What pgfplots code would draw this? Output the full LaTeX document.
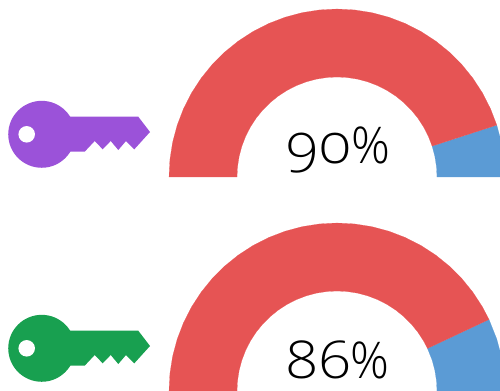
\documentclass[border=0pt]{standalone}
\usepackage{pgfplots}
\pgfplotsset{compat=1.18}
\usepackage{fontspec}
\setmainfont{Open Sans Light}[Numbers=OldStyle]
\newfontfamily\widedigits{Open Sans Light}[Numbers=OldStyle, FakeStretch=1.08]
\newfontfamily\tallfigures{Open Sans Light}[Numbers=OldStyle, FakeStretch=1.12]
\newfontfamily\percentsign{Open Sans Light}[FakeStretch=0.95]
\definecolor{gaugered}{HTML}{E65454}
\definecolor{gaugeblue}{HTML}{5B9BD5}
\definecolor{keypurple}{HTML}{9B52D9}
\definecolor{keygreen}{HTML}{18A050}
% Shared frame: one picture unit is 0.75pt, the axes fill the whole canvas.
\pgfplotsset{
  canvas/.style={
    at={(0,0)}, anchor=south west,
    scale only axis, width=375pt, height=292.5pt,
    hide axis, clip=true
  },
  wedge/.style={fill=#1, draw=#1, line width=0.1pt, data cs=polar, forget plot}
}
\newcommand{\pct}{\hspace{-1pt}{\percentsign\fontsize{38pt}{38pt}\selectfont\%}}
\begin{document}
\begin{tikzpicture}
\useasboundingbox (0,0) rectangle (375pt,292.5pt);
\clip (0,0) rectangle (375pt,292.5pt);

% Upper gauge, centred on its baseline: 90 of 100 in red, 10 in blue.
\begin{axis}[canvas, xmin=-337, xmax=163, ymin=-213, ymax=177]
\addplot[wedge=gaugeblue] coordinates {
  (0,100) (0,168) (6,168) (12,168) (18,168)
  (18,100) (12,100) (6,100) (0,100)};
\addplot[wedge=gaugered] coordinates {
  (18,100) (18,168) (24,168) (30,168) (36,168) (42,168) (48,168) (54,168)
  (60,168) (66,168) (72,168) (78,168) (84,168) (90,168) (96,168) (102,168)
  (108,168) (114,168) (120,168) (126,168) (132,168) (138,168) (144,168)
  (150,168) (156,168) (162,168) (168,168) (174,168) (180,168)
  (180,100) (174,100) (168,100) (162,100) (156,100) (150,100) (144,100)
  (138,100) (132,100) (126,100) (120,100) (114,100) (108,100) (102,100)
  (96,100) (90,100) (84,100) (78,100) (72,100) (66,100) (60,100) (54,100)
  (48,100) (42,100) (36,100) (30,100) (24,100) (18,100)};
\end{axis}

% Lower gauge, its baseline just under the canvas: 86 of 100 in red, 14 in blue.
\begin{axis}[canvas, xmin=-337, xmax=163, ymin=1, ymax=391]
\addplot[wedge=gaugeblue] coordinates {
  (0,100) (0,168) (6,168) (12,168) (18,168) (25.2,168)
  (25.2,100) (18,100) (12,100) (6,100) (0,100)};
\addplot[wedge=gaugered] coordinates {
  (25.2,100) (25.2,168) (30,168) (36,168) (42,168) (48,168) (54,168)
  (60,168) (66,168) (72,168) (78,168) (84,168) (90,168) (96,168) (102,168)
  (108,168) (114,168) (120,168) (126,168) (132,168) (138,168) (144,168)
  (150,168) (156,168) (162,168) (168,168) (174,168) (180,168)
  (180,100) (174,100) (168,100) (162,100) (156,100) (150,100) (144,100)
  (138,100) (132,100) (126,100) (120,100) (114,100) (108,100) (102,100)
  (96,100) (90,100) (84,100) (78,100) (72,100) (66,100) (60,100) (54,100)
  (48,100) (42,100) (36,100) (30,100) (25.2,100)};
\end{axis}

% Key icons and gauge readings, placed in canvas pixels from the top left.
\begin{axis}[canvas, xmin=0, xmax=500, ymin=0, ymax=390, y dir=reverse]
\newcommand{\keyicon}[2]{%
  \fill[#1]
    (axis cs:65,{#2+116.7}) -- (axis cs:138.3,{#2+116.7}) -- (axis cs:150,{#2+132})
    -- (axis cs:134.3,{#2+149.3}) -- (axis cs:126,{#2+141}) -- (axis cs:118.3,{#2+150})
    -- (axis cs:110.7,{#2+141}) -- (axis cs:102.7,{#2+149.3}) -- (axis cs:94.7,{#2+141})
    -- (axis cs:84.7,{#2+151.7}) -- (axis cs:65,{#2+151.7}) -- cycle;
  \fill[#1] (axis cs:41.7,{#2+134.3}) circle[radius=25.1pt];
  \fill[white] (axis cs:26.7,{#2+134.3}) circle[radius=6.2pt];
}
\keyicon{keypurple}{0}
\keyicon{keygreen}{214}
\node[text=black, anchor=base, inner sep=0pt] at (axis cs:337.5,163.5)
  {{\widedigits\fontsize{41pt}{41pt}\selectfont 90}\pct};
\node[text=black, anchor=base, inner sep=0pt] at (axis cs:337.5,378)
  {{\tallfigures\fontsize{39pt}{39pt}\selectfont 86}\pct};
\end{axis}
\end{tikzpicture}
\end{document}
